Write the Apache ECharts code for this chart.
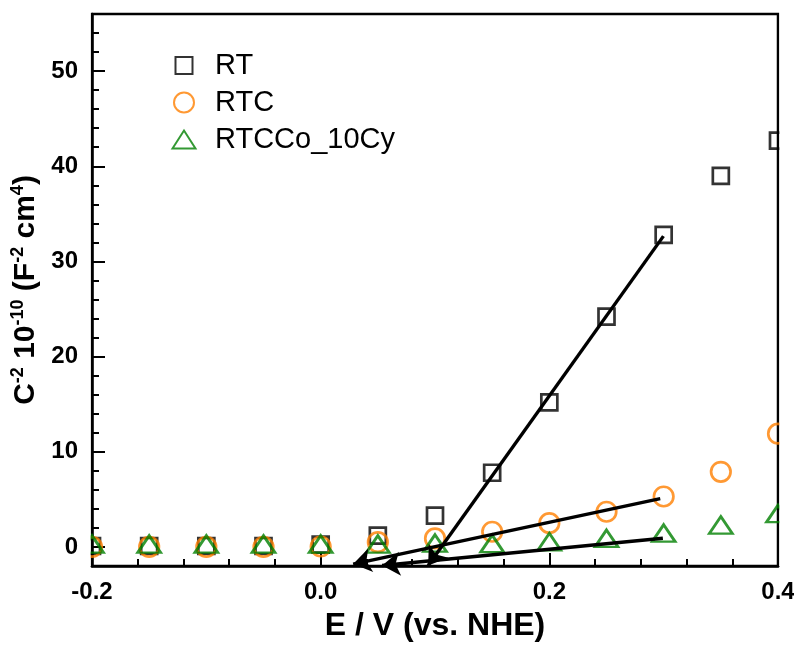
<!DOCTYPE html>
<html><head><meta charset="utf-8">
<script src="https://cdn.jsdelivr.net/npm/echarts@6/dist/echarts.min.js"></script>
<style>html,body{margin:0;padding:0;background:#fff}#c{width:794px;height:645px}</style>
</head><body><div id="c"></div>
<script>
// ---- data ----
const potentials = [-0.2, -0.15, -0.1, -0.05, 0, 0.05, 0.1, 0.15, 0.2, 0.25, 0.3, 0.35, 0.4];
const rtValues = [0.1, 0.1, 0.1, 0.1, 0.25, 1.2, 3.3, 7.8, 15.2, 24.2, 32.8, 39.0, 42.7];
const rtcValues = [0.0, 0.0, 0.0, 0.0, 0.05, 0.5, 0.9, 1.6, 2.5, 3.7, 5.3, 7.9, 11.9];
const rtccoValues = [0.3, 0.3, 0.3, 0.3, 0.3, 0.3, 0.4, 0.35, 0.55, 0.9, 1.45, 2.3, 3.5];
const fitRT = [[0.2998, 32.66], [0.094, -1.95]];
const fitRTC = [[0.297, 5.08], [0.0284, -1.8]];
const fitRTCCo = [[0.2993, 0.92], [0.0537, -1.95]];
const seriesNames = ['RT', 'RTC', 'RTCCo_10Cy'];
const yMajorTicks = [0, 10, 20, 30, 40, 50];

const font = '"Liberation Sans", Arial, sans-serif';
const pair = (xs, ys) => xs.map((x, i) => [x, ys[i]]);
const fitLine = f => ({
  silent: true, symbol: ['none', 'arrow'], symbolSize: 18, precision: 4,
  lineStyle: { color: '#000', width: 3.4, type: 'solid' },
  label: { show: false }, emphasis: { disabled: true },
  data: [[{ coord: f[0] }, { coord: f[1] }]]
});
const legendIcons = [
  'path://M0,0M24,22M3.5,2.5h17v17h-17z',
  'path://M0,0M24,22M2,11a10,10 0 1,0 20,0a10,10 0 1,0 -20,0z',
  'path://M0,0M24,22M0.5,20L12,2L23.5,20z'
];

const chart = echarts.init(document.getElementById('c'), null, { renderer: 'canvas' });
chart.setOption({
  animation: false,
  textStyle: { fontFamily: font },
  grid: { left: 92, right: 16, top: 14, bottom: 79, outerBoundsMode: 'none', containLabel: false,
    show: true, borderColor: '#000', borderWidth: 2.5, backgroundColor: 'transparent' },
  legend: {
    data: seriesNames.map((n, i) => ({ name: n, icon: legendIcons[i] })),
    orient: 'vertical', left: 166, top: 46,
    itemWidth: 24, itemHeight: 22, itemGap: 8,
    textStyle: { fontFamily: font, fontSize: 29, color: '#000', padding: [0, 0, 0, 14] },
    selectedMode: false
  },
  xAxis: {
    type: 'value', min: -0.2, max: 0.4, interval: 0.2,
    axisLine: { onZero: false, lineStyle: { color: '#000', width: 2.5 } },
    axisTick: { inside: true, length: 13, lineStyle: { color: '#000', width: 2 } },
    minorTick: { show: true, splitNumber: 5, length: 7, lineStyle: { color: '#000', width: 2 } },
    splitLine: { show: false },
    axisLabel: { fontFamily: font, fontSize: 24, fontWeight: 'bold', color: '#000', margin: 14,
      formatter: v => v.toFixed(1) },
    name: 'E / V (vs. NHE)', nameLocation: 'middle', nameGap: 44,
    nameTextStyle: { fontFamily: font, fontSize: 32, fontWeight: 'bold', color: '#000' }
  },
  yAxis: [{
    type: 'value', min: -2, max: 56, interval: 2, position: 'left',
    axisLine: { onZero: false, lineStyle: { color: '#000', width: 2.5 } },
    axisTick: { inside: true, length: 7, lineStyle: { color: '#000', width: 2 } },
    splitLine: { show: false },
    axisLabel: { fontFamily: font, fontSize: 24, fontWeight: 'bold', color: '#000', margin: 14,
      formatter: v => (Math.round(v) % 10 === 0 && v >= 0 && v <= 50) ? String(Math.round(v)) : '' },
    name: '{b|C}{s|-2}{b| 10}{s|-10}{b| (F}{s|-2}{b| cm}{s|4}{b|)}',
    nameLocation: 'middle', nameGap: 48,
    nameTextStyle: { fontFamily: font, color: '#000',
      rich: {
        b: { fontFamily: font, fontSize: 30, fontWeight: 'bold', color: '#000', lineHeight: 32 },
        s: { fontFamily: font, fontSize: 18, fontWeight: 'bold', color: '#000', verticalAlign: 'top', lineHeight: 32 }
      } }
  }, {
    type: 'value', min: -2, max: 56, position: 'left',
    axisLine: { show: false, onZero: false },
    axisTick: { inside: true, length: 13, customValues: yMajorTicks, lineStyle: { color: '#000', width: 2 } },
    axisLabel: { show: false }, splitLine: { show: false }
  }],
  graphic: [
    { type: 'rect', z: 100, silent: true, shape: { x: 78, y: 0, width: 12.6, height: 566 }, style: { fill: '#fff' } },
    { type: 'rect', z: 100, silent: true, shape: { x: 779.4, y: 0, width: 20, height: 566 }, style: { fill: '#fff' } }
  ],
  series: [
    { name: seriesNames[0], type: 'scatter', data: pair(potentials, rtValues), symbol: 'rect', symbolSize: 16, z: 3,
      itemStyle: { color: 'rgba(255,255,255,0)', borderColor: '#000', borderWidth: 2.7 }, markLine: fitLine(fitRT) },
    { name: seriesNames[1], type: 'scatter', data: pair(potentials, rtcValues), symbol: 'circle', symbolSize: 19.5, z: 3,
      itemStyle: { color: 'rgba(255,255,255,0)', borderColor: '#ff8000', borderWidth: 2.7 }, markLine: fitLine(fitRTC) },
    { name: seriesNames[2], type: 'scatter', data: pair(potentials, rtccoValues), symbol: 'triangle', symbolSize: [23, 17], z: 3,
      itemStyle: { color: 'rgba(255,255,255,0)', borderColor: '#008000', borderWidth: 2.7 }, markLine: fitLine(fitRTCCo) }
  ]
});
</script></body></html>
